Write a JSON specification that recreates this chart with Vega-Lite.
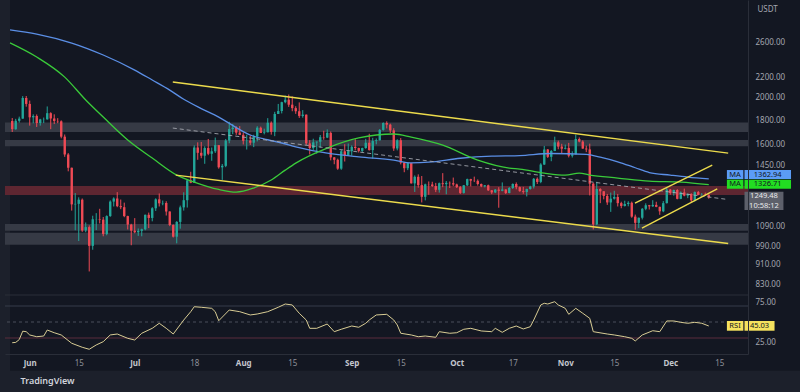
{
"$schema":"https://vega.github.io/schema/vega-lite/v6.json",
"width":743,"height":354,
"autosize":{"type":"none"},
"padding":{"left":5,"top":0,"right":52,"bottom":38},
"background":"#1c202b",
"config":{"view":{"stroke":null},"font":"Noto Sans"},
"title":{"text":"TradingView","orient":"bottom","anchor":"start","fontSize":9,"fontWeight":600,"color":"#d1d4dc","offset":6,"dx":16,"font":"Noto Sans"},
"datasets":{
"panel":[{"x1":"2022-05-26T08:43:00Z","x2":"2023-01-10T00:00:00Z","lo":551.5,"hi":3171}],
"candles":[
{"d":"2022-05-27","o":1792,"h":1817,"l":1701,"c":1724},
{"d":"2022-05-28","o":1724,"h":1810,"l":1720,"c":1793},
{"d":"2022-05-29","o":1793,"h":1829,"l":1778,"c":1812},
{"d":"2022-05-30","o":1812,"h":2015,"l":1811,"c":1997},
{"d":"2022-05-31","o":1997,"h":2016,"l":1917,"c":1942},
{"d":"2022-06-01","o":1942,"h":1973,"l":1753,"c":1823},
{"d":"2022-06-02","o":1823,"h":1849,"l":1772,"c":1834},
{"d":"2022-06-03","o":1834,"h":1848,"l":1742,"c":1775},
{"d":"2022-06-04","o":1775,"h":1810,"l":1753,"c":1805},
{"d":"2022-06-05","o":1805,"h":1821,"l":1774,"c":1806},
{"d":"2022-06-06","o":1806,"h":1919,"l":1803,"c":1859},
{"d":"2022-06-07","o":1859,"h":1867,"l":1724,"c":1813},
{"d":"2022-06-08","o":1813,"h":1849,"l":1766,"c":1792},
{"d":"2022-06-09","o":1792,"h":1816,"l":1773,"c":1789},
{"d":"2022-06-10","o":1789,"h":1797,"l":1651,"c":1664},
{"d":"2022-06-11","o":1664,"h":1681,"l":1513,"c":1530},
{"d":"2022-06-12","o":1530,"h":1540,"l":1413,"c":1437},
{"d":"2022-06-13","o":1437,"h":1438,"l":1174,"c":1209},
{"d":"2022-06-14","o":1209,"h":1275,"l":1070,"c":1212},
{"d":"2022-06-15","o":1212,"h":1250,"l":1017,"c":1236},
{"d":"2022-06-16","o":1236,"h":1243,"l":1062,"c":1069},
{"d":"2022-06-17","o":1069,"h":1110,"l":1060,"c":1086},
{"d":"2022-06-18","o":1086,"h":1095,"l":881,"c":994},
{"d":"2022-06-19","o":994,"h":1146,"l":976,"c":1127},
{"d":"2022-06-20","o":1127,"h":1160,"l":1071,"c":1128},
{"d":"2022-06-21","o":1128,"h":1184,"l":1105,"c":1125},
{"d":"2022-06-22","o":1125,"h":1139,"l":1040,"c":1051},
{"d":"2022-06-23","o":1051,"h":1148,"l":1045,"c":1144},
{"d":"2022-06-24","o":1144,"h":1232,"l":1140,"c":1225},
{"d":"2022-06-25","o":1225,"h":1250,"l":1197,"c":1243},
{"d":"2022-06-26","o":1243,"h":1281,"l":1193,"c":1199},
{"d":"2022-06-27","o":1199,"h":1237,"l":1182,"c":1193},
{"d":"2022-06-28","o":1193,"h":1219,"l":1138,"c":1144},
{"d":"2022-06-29","o":1144,"h":1146,"l":1074,"c":1099},
{"d":"2022-06-30","o":1099,"h":1103,"l":997,"c":1068},
{"d":"2022-07-01","o":1068,"h":1133,"l":1055,"c":1060},
{"d":"2022-07-02","o":1060,"h":1079,"l":1042,"c":1067},
{"d":"2022-07-03","o":1067,"h":1078,"l":1040,"c":1075},
{"d":"2022-07-04","o":1075,"h":1152,"l":1070,"c":1151},
{"d":"2022-07-05","o":1151,"h":1163,"l":1081,"c":1134},
{"d":"2022-07-06","o":1134,"h":1193,"l":1116,"c":1187},
{"d":"2022-07-07","o":1187,"h":1244,"l":1172,"c":1238},
{"d":"2022-07-08","o":1238,"h":1273,"l":1197,"c":1215},
{"d":"2022-07-09","o":1215,"h":1231,"l":1204,"c":1217},
{"d":"2022-07-10","o":1217,"h":1227,"l":1147,"c":1169},
{"d":"2022-07-11","o":1169,"h":1170,"l":1091,"c":1097},
{"d":"2022-07-12","o":1097,"h":1100,"l":1034,"c":1038},
{"d":"2022-07-13","o":1038,"h":1117,"l":1006,"c":1113},
{"d":"2022-07-14","o":1113,"h":1202,"l":1078,"c":1192},
{"d":"2022-07-15","o":1192,"h":1280,"l":1174,"c":1233},
{"d":"2022-07-16","o":1233,"h":1359,"l":1191,"c":1354},
{"d":"2022-07-17","o":1354,"h":1410,"l":1336,"c":1339},
{"d":"2022-07-18","o":1339,"h":1597,"l":1337,"c":1581},
{"d":"2022-07-19","o":1581,"h":1620,"l":1492,"c":1542},
{"d":"2022-07-20","o":1542,"h":1623,"l":1503,"c":1521},
{"d":"2022-07-21","o":1521,"h":1590,"l":1464,"c":1577},
{"d":"2022-07-22","o":1577,"h":1646,"l":1525,"c":1535},
{"d":"2022-07-23","o":1535,"h":1581,"l":1485,"c":1553},
{"d":"2022-07-24","o":1553,"h":1657,"l":1541,"c":1599},
{"d":"2022-07-25","o":1599,"h":1600,"l":1431,"c":1440},
{"d":"2022-07-26","o":1440,"h":1463,"l":1357,"c":1450},
{"d":"2022-07-27","o":1450,"h":1646,"l":1441,"c":1634},
{"d":"2022-07-28","o":1634,"h":1785,"l":1613,"c":1725},
{"d":"2022-07-29","o":1725,"h":1767,"l":1684,"c":1736},
{"d":"2022-07-30","o":1736,"h":1748,"l":1678,"c":1696},
{"d":"2022-07-31","o":1696,"h":1749,"l":1677,"c":1678},
{"d":"2022-08-01","o":1678,"h":1698,"l":1604,"c":1632},
{"d":"2022-08-02","o":1632,"h":1680,"l":1566,"c":1634},
{"d":"2022-08-03","o":1634,"h":1674,"l":1600,"c":1617},
{"d":"2022-08-04","o":1617,"h":1679,"l":1584,"c":1665},
{"d":"2022-08-05","o":1665,"h":1748,"l":1627,"c":1736},
{"d":"2022-08-06","o":1736,"h":1745,"l":1693,"c":1694},
{"d":"2022-08-07","o":1694,"h":1728,"l":1682,"c":1699},
{"d":"2022-08-08","o":1699,"h":1816,"l":1698,"c":1777},
{"d":"2022-08-09","o":1777,"h":1788,"l":1680,"c":1702},
{"d":"2022-08-10","o":1702,"h":1871,"l":1668,"c":1852},
{"d":"2022-08-11","o":1852,"h":1942,"l":1852,"c":1878},
{"d":"2022-08-12","o":1878,"h":1962,"l":1857,"c":1958},
{"d":"2022-08-13","o":1958,"h":2020,"l":1948,"c":1981},
{"d":"2022-08-14","o":1981,"h":2030,"l":1915,"c":1935},
{"d":"2022-08-15","o":1935,"h":2012,"l":1876,"c":1904},
{"d":"2022-08-16","o":1904,"h":1921,"l":1853,"c":1876},
{"d":"2022-08-17","o":1876,"h":1956,"l":1818,"c":1835},
{"d":"2022-08-18","o":1835,"h":1886,"l":1820,"c":1846},
{"d":"2022-08-19","o":1846,"h":1848,"l":1601,"c":1612},
{"d":"2022-08-20","o":1612,"h":1637,"l":1530,"c":1577},
{"d":"2022-08-21","o":1577,"h":1648,"l":1563,"c":1620},
{"d":"2022-08-22","o":1620,"h":1627,"l":1536,"c":1625},
{"d":"2022-08-23","o":1625,"h":1677,"l":1580,"c":1660},
{"d":"2022-08-24","o":1660,"h":1711,"l":1640,"c":1657},
{"d":"2022-08-25","o":1657,"h":1722,"l":1653,"c":1694},
{"d":"2022-08-26","o":1694,"h":1705,"l":1488,"c":1509},
{"d":"2022-08-27","o":1509,"h":1512,"l":1461,"c":1492},
{"d":"2022-08-28","o":1492,"h":1500,"l":1423,"c":1431},
{"d":"2022-08-29","o":1431,"h":1563,"l":1423,"c":1553},
{"d":"2022-08-30","o":1553,"h":1606,"l":1480,"c":1524},
{"d":"2022-08-31","o":1524,"h":1611,"l":1520,"c":1554},
{"d":"2022-09-01","o":1554,"h":1597,"l":1521,"c":1586},
{"d":"2022-09-02","o":1586,"h":1644,"l":1560,"c":1577},
{"d":"2022-09-03","o":1577,"h":1580,"l":1544,"c":1556},
{"d":"2022-09-04","o":1556,"h":1580,"l":1547,"c":1577},
{"d":"2022-09-05","o":1577,"h":1647,"l":1572,"c":1617},
{"d":"2022-09-06","o":1617,"h":1687,"l":1558,"c":1562},
{"d":"2022-09-07","o":1562,"h":1655,"l":1500,"c":1630},
{"d":"2022-09-08","o":1630,"h":1650,"l":1605,"c":1636},
{"d":"2022-09-09","o":1636,"h":1725,"l":1634,"c":1718},
{"d":"2022-09-10","o":1718,"h":1780,"l":1712,"c":1775},
{"d":"2022-09-11","o":1775,"h":1789,"l":1730,"c":1761},
{"d":"2022-09-12","o":1761,"h":1769,"l":1692,"c":1714},
{"d":"2022-09-13","o":1714,"h":1732,"l":1556,"c":1574},
{"d":"2022-09-14","o":1574,"h":1644,"l":1560,"c":1636},
{"d":"2022-09-15","o":1636,"h":1653,"l":1460,"c":1472},
{"d":"2022-09-16","o":1472,"h":1477,"l":1407,"c":1434},
{"d":"2022-09-17","o":1434,"h":1474,"l":1421,"c":1469},
{"d":"2022-09-18","o":1469,"h":1470,"l":1334,"c":1335},
{"d":"2022-09-19","o":1335,"h":1386,"l":1282,"c":1377},
{"d":"2022-09-20","o":1377,"h":1393,"l":1308,"c":1324},
{"d":"2022-09-21","o":1324,"h":1382,"l":1220,"c":1253},
{"d":"2022-09-22","o":1253,"h":1333,"l":1232,"c":1329},
{"d":"2022-09-23","o":1329,"h":1347,"l":1265,"c":1328},
{"d":"2022-09-24","o":1328,"h":1345,"l":1313,"c":1318},
{"d":"2022-09-25","o":1318,"h":1338,"l":1281,"c":1295},
{"d":"2022-09-26","o":1295,"h":1340,"l":1278,"c":1336},
{"d":"2022-09-27","o":1336,"h":1401,"l":1311,"c":1330},
{"d":"2022-09-28","o":1330,"h":1350,"l":1268,"c":1338},
{"d":"2022-09-29","o":1338,"h":1347,"l":1306,"c":1336},
{"d":"2022-09-30","o":1336,"h":1372,"l":1319,"c":1328},
{"d":"2022-10-01","o":1328,"h":1333,"l":1306,"c":1311},
{"d":"2022-10-02","o":1311,"h":1318,"l":1270,"c":1276},
{"d":"2022-10-03","o":1276,"h":1325,"l":1272,"c":1323},
{"d":"2022-10-04","o":1323,"h":1365,"l":1318,"c":1362},
{"d":"2022-10-05","o":1362,"h":1364,"l":1316,"c":1352},
{"d":"2022-10-06","o":1352,"h":1378,"l":1343,"c":1351},
{"d":"2022-10-07","o":1351,"h":1360,"l":1321,"c":1331},
{"d":"2022-10-08","o":1331,"h":1334,"l":1311,"c":1316},
{"d":"2022-10-09","o":1316,"h":1324,"l":1310,"c":1323},
{"d":"2022-10-10","o":1323,"h":1327,"l":1288,"c":1292},
{"d":"2022-10-11","o":1292,"h":1294,"l":1269,"c":1279},
{"d":"2022-10-12","o":1279,"h":1300,"l":1275,"c":1296},
{"d":"2022-10-13","o":1296,"h":1311,"l":1190,"c":1289},
{"d":"2022-10-14","o":1289,"h":1341,"l":1286,"c":1297},
{"d":"2022-10-15","o":1297,"h":1298,"l":1270,"c":1275},
{"d":"2022-10-16","o":1275,"h":1312,"l":1274,"c":1306},
{"d":"2022-10-17","o":1306,"h":1335,"l":1300,"c":1331},
{"d":"2022-10-18","o":1331,"h":1341,"l":1298,"c":1311},
{"d":"2022-10-19","o":1311,"h":1315,"l":1283,"c":1287},
{"d":"2022-10-20","o":1287,"h":1313,"l":1271,"c":1282},
{"d":"2022-10-21","o":1282,"h":1302,"l":1255,"c":1300},
{"d":"2022-10-22","o":1300,"h":1320,"l":1296,"c":1315},
{"d":"2022-10-23","o":1315,"h":1369,"l":1303,"c":1364},
{"d":"2022-10-24","o":1364,"h":1373,"l":1331,"c":1344},
{"d":"2022-10-25","o":1344,"h":1468,"l":1336,"c":1459},
{"d":"2022-10-26","o":1459,"h":1593,"l":1456,"c":1566},
{"d":"2022-10-27","o":1566,"h":1570,"l":1505,"c":1513},
{"d":"2022-10-28","o":1513,"h":1562,"l":1482,"c":1555},
{"d":"2022-10-29","o":1555,"h":1664,"l":1554,"c":1620},
{"d":"2022-10-30","o":1620,"h":1633,"l":1568,"c":1588},
{"d":"2022-10-31","o":1588,"h":1609,"l":1540,"c":1572},
{"d":"2022-11-01","o":1572,"h":1603,"l":1567,"c":1578},
{"d":"2022-11-02","o":1578,"h":1616,"l":1509,"c":1521},
{"d":"2022-11-03","o":1521,"h":1553,"l":1508,"c":1531},
{"d":"2022-11-04","o":1531,"h":1680,"l":1530,"c":1646},
{"d":"2022-11-05","o":1646,"h":1658,"l":1620,"c":1626},
{"d":"2022-11-06","o":1626,"h":1636,"l":1572,"c":1573},
{"d":"2022-11-07","o":1573,"h":1595,"l":1547,"c":1567},
{"d":"2022-11-08","o":1567,"h":1610,"l":1261,"c":1333},
{"d":"2022-11-09","o":1333,"h":1340,"l":1074,"c":1100},
{"d":"2022-11-10","o":1100,"h":1345,"l":1096,"c":1300},
{"d":"2022-11-11","o":1300,"h":1305,"l":1216,"c":1286},
{"d":"2022-11-12","o":1286,"h":1287,"l":1238,"c":1258},
{"d":"2022-11-13","o":1258,"h":1270,"l":1206,"c":1220},
{"d":"2022-11-14","o":1220,"h":1278,"l":1167,"c":1242},
{"d":"2022-11-15","o":1242,"h":1289,"l":1237,"c":1252},
{"d":"2022-11-16","o":1252,"h":1270,"l":1197,"c":1216},
{"d":"2022-11-17","o":1216,"h":1224,"l":1187,"c":1200},
{"d":"2022-11-18","o":1200,"h":1230,"l":1197,"c":1211},
{"d":"2022-11-19","o":1211,"h":1227,"l":1198,"c":1218},
{"d":"2022-11-20","o":1218,"h":1225,"l":1135,"c":1141},
{"d":"2022-11-21","o":1141,"h":1152,"l":1073,"c":1108},
{"d":"2022-11-22","o":1108,"h":1136,"l":1081,"c":1135},
{"d":"2022-11-23","o":1135,"h":1188,"l":1126,"c":1184},
{"d":"2022-11-24","o":1184,"h":1215,"l":1176,"c":1204},
{"d":"2022-11-25","o":1204,"h":1206,"l":1180,"c":1198},
{"d":"2022-11-26","o":1198,"h":1233,"l":1195,"c":1206},
{"d":"2022-11-27","o":1206,"h":1224,"l":1193,"c":1195},
{"d":"2022-11-28","o":1195,"h":1196,"l":1151,"c":1170},
{"d":"2022-11-29","o":1170,"h":1228,"l":1165,"c":1216},
{"d":"2022-11-30","o":1216,"h":1307,"l":1214,"c":1296},
{"d":"2022-12-01","o":1296,"h":1300,"l":1265,"c":1276},
{"d":"2022-12-02","o":1276,"h":1296,"l":1260,"c":1294},
{"d":"2022-12-03","o":1294,"h":1299,"l":1238,"c":1241},
{"d":"2022-12-04","o":1241,"h":1285,"l":1239,"c":1279},
{"d":"2022-12-05","o":1279,"h":1302,"l":1256,"c":1260},
{"d":"2022-12-06","o":1260,"h":1273,"l":1245,"c":1270},
{"d":"2022-12-07","o":1270,"h":1274,"l":1221,"c":1232},
{"d":"2022-12-08","o":1232,"h":1285,"l":1226,"c":1281},
{"d":"2022-12-09","o":1281,"h":1288,"l":1262,"c":1264},
{"d":"2022-12-10","o":1264,"h":1275,"l":1262,"c":1265},
{"d":"2022-12-11","o":1265,"h":1278,"l":1258,"c":1263},
{"d":"2022-12-12","o":1263,"h":1268,"l":1242,"c":1249.48}
],
"ma100":[
{"d":"2022-05-26T09:00:00Z","v":2755},{"d":"2022-06-03","v":2700},{"d":"2022-06-13","v":2588},{"d":"2022-06-22","v":2446},
{"d":"2022-07-01","v":2278},{"d":"2022-07-06","v":2174},{"d":"2022-07-11","v":2073},{"d":"2022-07-15","v":1985},
{"d":"2022-07-20","v":1900},{"d":"2022-07-25","v":1825},{"d":"2022-07-30","v":1737},{"d":"2022-08-03","v":1677},
{"d":"2022-08-08","v":1640},{"d":"2022-08-12","v":1615},{"d":"2022-08-16","v":1586},{"d":"2022-08-25","v":1539},
{"d":"2022-09-03","v":1512},{"d":"2022-09-13","v":1490},{"d":"2022-09-18","v":1471},{"d":"2022-09-23","v":1475},
{"d":"2022-10-02","v":1503},{"d":"2022-10-11","v":1518},{"d":"2022-10-19","v":1522},{"d":"2022-10-28","v":1537},
{"d":"2022-11-07","v":1531},{"d":"2022-11-11","v":1511},{"d":"2022-11-16","v":1478},{"d":"2022-11-21","v":1437},
{"d":"2022-11-25","v":1405},{"d":"2022-12-01","v":1388},{"d":"2022-12-06","v":1375},{"d":"2022-12-12","v":1363}
],
"ma50":[
{"d":"2022-05-26T09:00:00Z","v":2590},{"d":"2022-06-03","v":2423},{"d":"2022-06-11","v":2204},{"d":"2022-06-17","v":1978},
{"d":"2022-06-22","v":1825},{"d":"2022-06-29","v":1638},{"d":"2022-07-06","v":1504},{"d":"2022-07-13","v":1388},
{"d":"2022-07-18","v":1343},{"d":"2022-07-25","v":1297},{"d":"2022-07-30","v":1281},{"d":"2022-08-04","v":1306},
{"d":"2022-08-09","v":1356},{"d":"2022-08-13","v":1421},{"d":"2022-08-16","v":1469},{"d":"2022-08-25","v":1577},
{"d":"2022-09-03","v":1654},{"d":"2022-09-13","v":1685},{"d":"2022-09-18","v":1661},{"d":"2022-09-27","v":1599},
{"d":"2022-10-07","v":1490},{"d":"2022-10-16","v":1435},{"d":"2022-10-19","v":1428},{"d":"2022-10-26","v":1401},
{"d":"2022-11-01","v":1388},{"d":"2022-11-05","v":1401},{"d":"2022-11-08","v":1388},{"d":"2022-11-16","v":1369},
{"d":"2022-11-25","v":1349},{"d":"2022-12-04","v":1343},{"d":"2022-12-12","v":1327}
],
"trend":[
{"id":"up","d":"2022-07-11T21:00:00Z","p":2153},{"id":"up","d":"2022-12-17T13:00:00Z","p":1540},
{"id":"lo","d":"2022-07-12T17:00:00Z","p":1388},{"id":"lo","d":"2022-12-17T13:00:00Z","p":1005},
{"id":"ru","d":"2022-11-20T22:00:00Z","p":1216},{"id":"ru","d":"2022-12-13T00:00:00Z","p":1455},
{"id":"rl","d":"2022-11-22T22:00:00Z","p":1081},{"id":"rl","d":"2022-12-14T10:00:00Z","p":1300}
],
"dashed":[
{"d":"2022-07-11T21:00:00Z","p":1733},{"d":"2022-12-17T13:00:00Z","p":1237}
],
"rsi":[
{"d":"2022-05-27","v":24.1},{"d":"2022-05-28","v":24.5},{"d":"2022-05-29","v":28},{"d":"2022-05-30","v":38.5},
{"d":"2022-05-31","v":37.9},{"d":"2022-06-01","v":33.8},{"d":"2022-06-03","v":31.6},{"d":"2022-06-05","v":32.5},
{"d":"2022-06-06","v":40},{"d":"2022-06-08","v":36.6},{"d":"2022-06-10","v":33.8},{"d":"2022-06-13","v":23.4},
{"d":"2022-06-16","v":18.4},{"d":"2022-06-18","v":15.9},{"d":"2022-06-20","v":21.3},{"d":"2022-06-22","v":25.4},
{"d":"2022-06-24","v":33.8},{"d":"2022-06-26","v":35},{"d":"2022-06-29","v":29.6},{"d":"2022-07-01","v":27.5},
{"d":"2022-07-03","v":35.9},{"d":"2022-07-06","v":42.1},{"d":"2022-07-08","v":48.4},{"d":"2022-07-10","v":42.1},
{"d":"2022-07-12","v":35},{"d":"2022-07-15","v":52.5},{"d":"2022-07-17","v":62.9},{"d":"2022-07-18","v":69.1},
{"d":"2022-07-20","v":68.4},{"d":"2022-07-23","v":67.1},{"d":"2022-07-24","v":62.9},{"d":"2022-07-25","v":51.6},
{"d":"2022-07-28","v":65},{"d":"2022-07-31","v":62.9},{"d":"2022-08-03","v":58.8},{"d":"2022-08-05","v":60},
{"d":"2022-08-08","v":62.9},{"d":"2022-08-11","v":68.4},{"d":"2022-08-13","v":72.5},{"d":"2022-08-15","v":71.3},
{"d":"2022-08-17","v":60.9},{"d":"2022-08-19","v":52.5},{"d":"2022-08-20","v":42.1},{"d":"2022-08-22","v":42.1},
{"d":"2022-08-25","v":47.5},{"d":"2022-08-27","v":37.9},{"d":"2022-08-29","v":40.9},{"d":"2022-09-01","v":45},
{"d":"2022-09-03","v":43.4},{"d":"2022-09-05","v":48.4},{"d":"2022-09-06","v":52.5},{"d":"2022-09-08","v":58.8},
{"d":"2022-09-11","v":59.6},{"d":"2022-09-13","v":52.5},{"d":"2022-09-14","v":46.3},{"d":"2022-09-15","v":35.9},
{"d":"2022-09-18","v":33.8},{"d":"2022-09-20","v":31.6},{"d":"2022-09-22","v":32.5},{"d":"2022-09-25","v":30.9},
{"d":"2022-09-26","v":37.9},{"d":"2022-09-29","v":35.9},{"d":"2022-10-01","v":36.6},{"d":"2022-10-03","v":40.9},
{"d":"2022-10-05","v":42.1},{"d":"2022-10-08","v":38.8},{"d":"2022-10-11","v":37.9},{"d":"2022-10-12","v":42.1},
{"d":"2022-10-14","v":37.1},{"d":"2022-10-16","v":42.1},{"d":"2022-10-18","v":45},{"d":"2022-10-20","v":41.3},
{"d":"2022-10-22","v":44.1},{"d":"2022-10-23","v":52.5},{"d":"2022-10-25","v":71.3},{"d":"2022-10-26","v":73.4},
{"d":"2022-10-27","v":72.5},{"d":"2022-10-29","v":75.4},{"d":"2022-10-30","v":71.3},{"d":"2022-11-01","v":67.1},
{"d":"2022-11-02","v":59.6},{"d":"2022-11-04","v":67.1},{"d":"2022-11-06","v":60.9},{"d":"2022-11-08","v":54.6},
{"d":"2022-11-09","v":37.9},{"d":"2022-11-13","v":35},{"d":"2022-11-15","v":33.8},{"d":"2022-11-18","v":31.6},
{"d":"2022-11-20","v":29.6},{"d":"2022-11-21","v":26.3},{"d":"2022-11-23","v":33.8},{"d":"2022-11-26","v":39.1},
{"d":"2022-11-28","v":37.9},{"d":"2022-11-30","v":51.3},{"d":"2022-12-02","v":51.3},{"d":"2022-12-04","v":49.6},
{"d":"2022-12-06","v":48.4},{"d":"2022-12-08","v":49.6},{"d":"2022-12-10","v":48.4},{"d":"2022-12-12","v":45.03}
],
"gray":[{"lo":1702,"hi":1779},{"lo":1590,"hi":1638},{"lo":1068,"hi":1102},{"lo":999,"hi":1057}],
"red":[{"lo":1264,"hi":1318}],
"boxes":[
{"k":"b1","x1":"2022-12-17T04:20:00Z","x2":"2022-12-21T21:00:00Z","lo":1362.6,"hi":1421.6},
{"k":"b2","x1":"2022-12-22T05:00:00Z","x2":"2023-01-04T12:00:00Z","lo":1362.6,"hi":1421.6},
{"k":"g1","x1":"2022-12-17T04:20:00Z","x2":"2022-12-21T21:00:00Z","lo":1301.6,"hi":1358.6},
{"k":"g2","x1":"2022-12-22T05:00:00Z","x2":"2023-01-04T12:00:00Z","lo":1301.6,"hi":1358.6},
{"k":"p","x1":"2022-12-22T05:00:00Z","x2":"2023-01-02T08:00:00Z","lo":1177,"hi":1282.6}
],
"tags":[
{"t":"MA","x":"2022-12-19T12:00:00Z","y":1387,"k":"dark"},
{"t":"1362.94","x":"2022-12-28T20:00:00Z","y":1387,"k":"dark"},
{"t":"MA","x":"2022-12-19T12:00:00Z","y":1328,"k":"dark"},
{"t":"1326.71","x":"2022-12-28T20:00:00Z","y":1328,"k":"dark"},
{"t":"1249.48","x":"2022-12-27T18:30:00Z","y":1257,"k":"light"},
{"t":"10:58:12","x":"2022-12-27T18:30:00Z","y":1202,"k":"light"}
],
"rsibox":[
{"x1":"2022-12-17T04:20:00Z","x2":"2022-12-21T21:00:00Z","lo":39.1,"hi":51.25},
{"x1":"2022-12-22T05:00:00Z","x2":"2022-12-30T19:00:00Z","lo":39.1,"hi":51.25}
],
"rsitags":[
{"t":"RSI","x":"2022-12-19T12:00:00Z","y":45},
{"t":"45.03","x":"2022-12-26T12:00:00Z","y":45}
]
},
"layer":[
{"layer":[
{"data":{"name":"panel"},"mark":{"type":"rect","clip":false,"color":"#131722"},
 "encoding":{
  "x":{"field":"x1","type":"temporal","scale":{"type":"utc","domain":[{"year":2022,"month":5,"date":26,"hours":8,"minutes":43,"utc":true},{"year":2022,"month":12,"date":21,"hours":18,"minutes":43,"utc":true}]}},
  "x2":{"field":"x2"},
  "y":{"field":"lo","type":"quantitative","scale":{"type":"log","domain":[596.8,3171],"nice":false,"zero":false},
   "axis":{"orient":"right","zindex":1,"values":[830,910,990,1090,1450,1600,1800,2000,2200,2600],"format":".2f","labelFontSize":8,"labelColor":"#a3a6af","labelPadding":7,"ticks":false,"grid":false,"domain":true,"domainColor":"#2a2e39","labelOverlap":false,"labelBound":false,"labelFont":"Noto Sans","title":"USDT","titleAngle":0,"titleAlign":"left","titleBaseline":"top","titleX":9,"titleY":5,"titleFontSize":8,"titleFontWeight":"normal","titleColor":"#a3a6af","titleFont":"Noto Sans"}},
  "y2":{"field":"hi"}}},
{"data":{"name":"gray"},"mark":{"type":"rect","color":"#363a45"},
 "encoding":{
  "y":{"field":"lo","type":"quantitative","scale":{"type":"log","domain":[596.8,3171],"nice":false,"zero":false}},
  "y2":{"field":"hi"}}},
{"data":{"name":"red"},"mark":{"type":"rect","color":"#5e2631"},
 "encoding":{
  "y":{"field":"lo","type":"quantitative","scale":{"type":"log","domain":[596.8,3171],"nice":false,"zero":false}},
  "y2":{"field":"hi"}}},
{"data":{"name":"candles"},"mark":{"type":"rule","strokeWidth":1},
 "encoding":{
  "x":{"field":"d","type":"temporal","scale":{"type":"utc","domain":[{"year":2022,"month":5,"date":26,"hours":8,"minutes":43,"utc":true},{"year":2022,"month":12,"date":21,"hours":18,"minutes":43,"utc":true}]},
   "axis":{"zindex":1,"values":[{"year":2022,"month":6,"date":1,"utc":true},{"year":2022,"month":6,"date":15,"utc":true},{"year":2022,"month":7,"date":1,"utc":true},{"year":2022,"month":7,"date":18,"utc":true},{"year":2022,"month":8,"date":1,"utc":true},{"year":2022,"month":8,"date":15,"utc":true},{"year":2022,"month":9,"date":1,"utc":true},{"year":2022,"month":9,"date":15,"utc":true},{"year":2022,"month":10,"date":1,"utc":true},{"year":2022,"month":10,"date":17,"utc":true},{"year":2022,"month":11,"date":1,"utc":true},{"year":2022,"month":11,"date":15,"utc":true},{"year":2022,"month":12,"date":1,"utc":true},{"year":2022,"month":12,"date":15,"utc":true}],
    "labelExpr":"utcdate(datum.value) == 1 ? utcFormat(datum.value, '%b') : utcFormat(datum.value, '%-d')",
    "title":null,"ticks":false,"grid":false,"domain":true,"domainColor":"#2a2e39","labelFontSize":8,"labelPadding":5,"labelFont":"Noto Sans","labelOverlap":false,
    "labelColor":{"condition":{"test":"utcdate(datum.value) == 1","value":"#c3c6ce"},"value":"#8e919a"},
    "labelFontWeight":{"condition":{"test":"utcdate(datum.value) == 1","value":"bold"},"value":"normal"}}},
  "y":{"field":"l","type":"quantitative","scale":{"type":"log","domain":[596.8,3171],"nice":false,"zero":false}},
  "y2":{"field":"h"},
  "color":{"condition":{"test":"datum.c >= datum.o","value":"#22a699"},"value":"#ef4a55"}}},
{"data":{"name":"candles"},"mark":{"type":"bar","size":2.4},
 "encoding":{
  "x":{"field":"d","type":"temporal","scale":{"type":"utc","domain":[{"year":2022,"month":5,"date":26,"hours":8,"minutes":43,"utc":true},{"year":2022,"month":12,"date":21,"hours":18,"minutes":43,"utc":true}]}},
  "y":{"field":"o","type":"quantitative","scale":{"type":"log","domain":[596.8,3171],"nice":false,"zero":false}},
  "y2":{"field":"c"},
  "color":{"condition":{"test":"datum.c >= datum.o","value":"#22a699"},"value":"#ef4a55"}}},
{"data":{"name":"ma100"},"mark":{"type":"line","color":"#5b8fe6","strokeWidth":1.3,"interpolate":"monotone"},
 "encoding":{
  "x":{"field":"d","type":"temporal","scale":{"type":"utc","domain":[{"year":2022,"month":5,"date":26,"hours":8,"minutes":43,"utc":true},{"year":2022,"month":12,"date":21,"hours":18,"minutes":43,"utc":true}]}},
  "y":{"field":"v","type":"quantitative","scale":{"type":"log","domain":[596.8,3171],"nice":false,"zero":false}}}},
{"data":{"name":"ma50"},"mark":{"type":"line","color":"#3acb3a","strokeWidth":1.3,"interpolate":"monotone"},
 "encoding":{
  "x":{"field":"d","type":"temporal","scale":{"type":"utc","domain":[{"year":2022,"month":5,"date":26,"hours":8,"minutes":43,"utc":true},{"year":2022,"month":12,"date":21,"hours":18,"minutes":43,"utc":true}]}},
  "y":{"field":"v","type":"quantitative","scale":{"type":"log","domain":[596.8,3171],"nice":false,"zero":false}}}},
{"data":{"name":"dashed"},"mark":{"type":"line","color":"#a9acb4","strokeWidth":1,"strokeDash":[4,3],"opacity":0.85},
 "encoding":{
  "x":{"field":"d","type":"temporal","scale":{"type":"utc","domain":[{"year":2022,"month":5,"date":26,"hours":8,"minutes":43,"utc":true},{"year":2022,"month":12,"date":21,"hours":18,"minutes":43,"utc":true}]}},
  "y":{"field":"p","type":"quantitative","scale":{"type":"log","domain":[596.8,3171],"nice":false,"zero":false}}}},
{"data":{"name":"trend"},"mark":{"type":"line","color":"#ecdb4c","strokeWidth":1.4},
 "encoding":{
  "x":{"field":"d","type":"temporal","scale":{"type":"utc","domain":[{"year":2022,"month":5,"date":26,"hours":8,"minutes":43,"utc":true},{"year":2022,"month":12,"date":21,"hours":18,"minutes":43,"utc":true}]}},
  "y":{"field":"p","type":"quantitative","scale":{"type":"log","domain":[596.8,3171],"nice":false,"zero":false}},
  "detail":{"field":"id"}}},
{"data":{"name":"boxes"},"mark":{"type":"rect","clip":false},
 "encoding":{
  "x":{"field":"x1","type":"temporal","scale":{"type":"utc","domain":[{"year":2022,"month":5,"date":26,"hours":8,"minutes":43,"utc":true},{"year":2022,"month":12,"date":21,"hours":18,"minutes":43,"utc":true}]}},
  "x2":{"field":"x2"},
  "y":{"field":"lo","type":"quantitative","scale":{"type":"log","domain":[596.8,3171],"nice":false,"zero":false}},
  "y2":{"field":"hi"},
  "color":{"field":"k","type":"nominal","scale":{"domain":["b1","b2","g1","g2","p"],"range":["#5b9cf6","#5b9cf6","#22dd22","#22dd22","#5d606b"]},"legend":null}}},
{"data":{"name":"tags"},"mark":{"type":"text","clip":false,"fontSize":7.5,"font":"Noto Sans","align":"center","baseline":"middle"},
 "encoding":{
  "x":{"field":"x","type":"temporal","scale":{"type":"utc","domain":[{"year":2022,"month":5,"date":26,"hours":8,"minutes":43,"utc":true},{"year":2022,"month":12,"date":21,"hours":18,"minutes":43,"utc":true}]}},
  "y":{"field":"y","type":"quantitative","scale":{"type":"log","domain":[596.8,3171],"nice":false,"zero":false}},
  "text":{"field":"t"},
  "color":{"condition":{"test":"datum.k == 'light'","value":"#e8e9ec"},"value":"#131722"}}}
]},
{"layer":[
{"data":{"values":[{"v":83.75}]},"mark":{"type":"rule","color":"#2a2e39","strokeWidth":1},
 "encoding":{"y":{"field":"v","type":"quantitative","scale":{"type":"linear","domain":[10,452.5],"nice":false,"zero":false},
  "axis":{"orient":"right","zindex":1,"values":[25,75],"format":".2f","labelFontSize":8,"labelColor":"#a3a6af","labelPadding":7,"ticks":false,"grid":false,"domain":false,"labelFont":"Noto Sans","title":null,"labelOverlap":false,"labelBound":false}}}},
{"data":{"values":[{"v":70}]},"mark":{"type":"rule","color":"#363d4a","strokeWidth":1},
 "encoding":{"y":{"field":"v","type":"quantitative","scale":{"type":"linear","domain":[10,452.5],"nice":false,"zero":false}}}},
{"data":{"values":[{"v":50}]},"mark":{"type":"rule","color":"#4a4e5a","strokeWidth":1,"strokeDash":[3,3]},
 "encoding":{"y":{"field":"v","type":"quantitative","scale":{"type":"linear","domain":[10,452.5],"nice":false,"zero":false}}}},
{"data":{"values":[{"v":30}]},"mark":{"type":"rule","color":"#5a2c3c","strokeWidth":1},
 "encoding":{"y":{"field":"v","type":"quantitative","scale":{"type":"linear","domain":[10,452.5],"nice":false,"zero":false}}}},
{"data":{"name":"rsi"},"mark":{"type":"line","color":"#d8cc94","strokeWidth":1},
 "encoding":{
  "x":{"field":"d","type":"temporal","scale":{"type":"utc","domain":[{"year":2022,"month":5,"date":26,"hours":8,"minutes":43,"utc":true},{"year":2022,"month":12,"date":21,"hours":18,"minutes":43,"utc":true}]}},
  "y":{"field":"v","type":"quantitative","scale":{"type":"linear","domain":[10,452.5],"nice":false,"zero":false}}}},
{"data":{"name":"rsibox"},"mark":{"type":"rect","clip":false,"color":"#f5e25e"},
 "encoding":{
  "x":{"field":"x1","type":"temporal","scale":{"type":"utc","domain":[{"year":2022,"month":5,"date":26,"hours":8,"minutes":43,"utc":true},{"year":2022,"month":12,"date":21,"hours":18,"minutes":43,"utc":true}]}},
  "x2":{"field":"x2"},
  "y":{"field":"lo","type":"quantitative","scale":{"type":"linear","domain":[10,452.5],"nice":false,"zero":false}},
  "y2":{"field":"hi"}}},
{"data":{"name":"rsitags"},"mark":{"type":"text","clip":false,"fontSize":7.5,"font":"Noto Sans","align":"center","baseline":"middle","color":"#131722"},
 "encoding":{
  "x":{"field":"x","type":"temporal","scale":{"type":"utc","domain":[{"year":2022,"month":5,"date":26,"hours":8,"minutes":43,"utc":true},{"year":2022,"month":12,"date":21,"hours":18,"minutes":43,"utc":true}]}},
  "y":{"field":"y","type":"quantitative","scale":{"type":"linear","domain":[10,452.5],"nice":false,"zero":false}},
  "text":{"field":"t"}}}
]}
],
"resolve":{"scale":{"y":"independent"}}
}
